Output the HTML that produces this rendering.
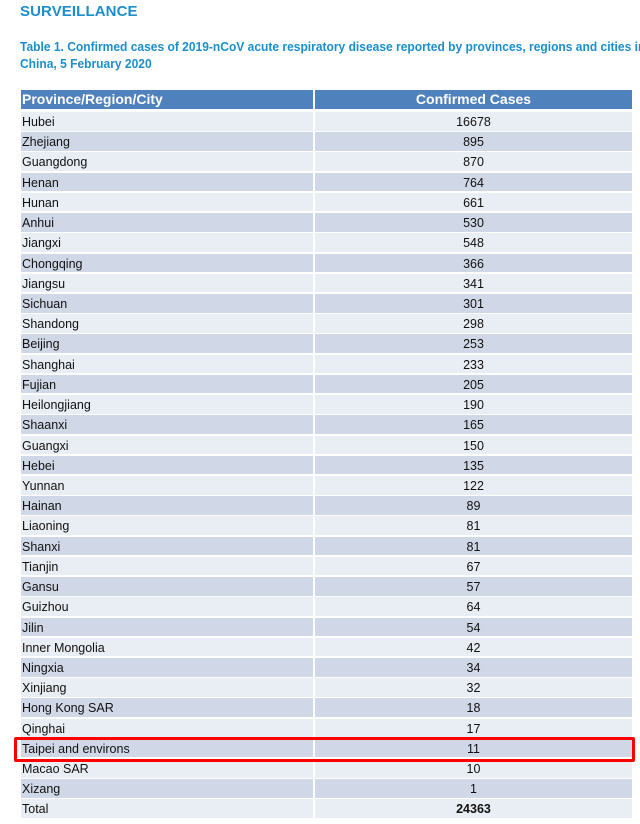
<!DOCTYPE html>
<html><head><meta charset="utf-8"><style>
html,body{margin:0;padding:0;background:#fff;}
body{width:640px;height:824px;position:relative;overflow:hidden;font-family:"Liberation Sans",Arial,sans-serif;color:#111;}
.t{position:absolute;left:20px;top:3px;font-size:15px;font-weight:bold;color:#1b8fcb;letter-spacing:0.1px;}
.cap{position:absolute;left:20px;font-size:13px;font-weight:bold;color:#1b8fcb;white-space:nowrap;transform:scaleX(0.925);transform-origin:0 0;}
.r{position:absolute;left:21px;width:611px;height:18.6px;}
.c1,.c2{position:absolute;top:0;height:100%;line-height:19px;font-size:12.5px;padding-top:1px;box-sizing:border-box;white-space:nowrap;}
.c1{left:0;width:292px;padding-left:1px;}
.c2{left:294px;width:317px;text-align:center;}
.l .c1,.l .c2{background:#e9edf4;}
.d .c1,.d .c2{background:#d0d8e8;}
.h .c1,.h .c2{background:#4f81bd;color:#fff;font-weight:bold;font-size:14px;line-height:19px;padding-top:0;}
.box{position:absolute;left:14px;top:737px;width:615px;height:19px;border:3px solid #ff0000;border-radius:2px;}
</style></head><body>
<div class="t">SURVEILLANCE</div>
<div class="cap" style="top:39px;">Table 1. Confirmed cases of 2019-nCoV acute respiratory disease reported by provinces, regions and cities in</div>
<div class="cap" style="top:56px;">China, 5 February 2020</div>

<div class="r h" style="top:90px;height:19px;"><div class="c1">Province/Region/City</div><div class="c2">Confirmed Cases</div></div>

<div class="r l" style="top:112px"><div class="c1">Hubei</div><div class="c2">16678</div></div>
<div class="r d" style="top:132.22px"><div class="c1">Zhejiang</div><div class="c2">895</div></div>
<div class="r l" style="top:152.44px"><div class="c1">Guangdong</div><div class="c2">870</div></div>
<div class="r d" style="top:172.66px"><div class="c1">Henan</div><div class="c2">764</div></div>
<div class="r l" style="top:192.88px"><div class="c1">Hunan</div><div class="c2">661</div></div>
<div class="r d" style="top:213.1px"><div class="c1">Anhui</div><div class="c2">530</div></div>
<div class="r l" style="top:233.32px"><div class="c1">Jiangxi</div><div class="c2">548</div></div>
<div class="r d" style="top:253.54px"><div class="c1">Chongqing</div><div class="c2">366</div></div>
<div class="r l" style="top:273.76px"><div class="c1">Jiangsu</div><div class="c2">341</div></div>
<div class="r d" style="top:293.98px"><div class="c1">Sichuan</div><div class="c2">301</div></div>
<div class="r l" style="top:314.2px"><div class="c1">Shandong</div><div class="c2">298</div></div>
<div class="r d" style="top:334.42px"><div class="c1">Beijing</div><div class="c2">253</div></div>
<div class="r l" style="top:354.64px"><div class="c1">Shanghai</div><div class="c2">233</div></div>
<div class="r d" style="top:374.86px"><div class="c1">Fujian</div><div class="c2">205</div></div>
<div class="r l" style="top:395.08px"><div class="c1">Heilongjiang</div><div class="c2">190</div></div>
<div class="r d" style="top:415.3px"><div class="c1">Shaanxi</div><div class="c2">165</div></div>
<div class="r l" style="top:435.52px"><div class="c1">Guangxi</div><div class="c2">150</div></div>
<div class="r d" style="top:455.74px"><div class="c1">Hebei</div><div class="c2">135</div></div>
<div class="r l" style="top:475.96px"><div class="c1">Yunnan</div><div class="c2">122</div></div>
<div class="r d" style="top:496.18px"><div class="c1">Hainan</div><div class="c2">89</div></div>
<div class="r l" style="top:516.4px"><div class="c1">Liaoning</div><div class="c2">81</div></div>
<div class="r d" style="top:536.62px"><div class="c1">Shanxi</div><div class="c2">81</div></div>
<div class="r l" style="top:556.84px"><div class="c1">Tianjin</div><div class="c2">67</div></div>
<div class="r d" style="top:577.06px"><div class="c1">Gansu</div><div class="c2">57</div></div>
<div class="r l" style="top:597.28px"><div class="c1">Guizhou</div><div class="c2">64</div></div>
<div class="r d" style="top:617.5px"><div class="c1">Jilin</div><div class="c2">54</div></div>
<div class="r l" style="top:637.72px"><div class="c1">Inner Mongolia</div><div class="c2">42</div></div>
<div class="r d" style="top:657.94px"><div class="c1">Ningxia</div><div class="c2">34</div></div>
<div class="r l" style="top:678.16px"><div class="c1">Xinjiang</div><div class="c2">32</div></div>
<div class="r d" style="top:698.38px"><div class="c1">Hong Kong SAR</div><div class="c2">18</div></div>
<div class="r l" style="top:718.6px"><div class="c1">Qinghai</div><div class="c2">17</div></div>
<div class="r d" style="top:738.82px"><div class="c1">Taipei and environs</div><div class="c2">11</div></div>
<div class="r l" style="top:759.04px"><div class="c1">Macao SAR</div><div class="c2">10</div></div>
<div class="r d" style="top:779.26px"><div class="c1">Xizang</div><div class="c2">1</div></div>
<div class="r l" style="top:799.48px"><div class="c1">Total</div><div class="c2" style="font-weight:bold;">24363</div></div>

<div class="box"></div>
</body></html>
